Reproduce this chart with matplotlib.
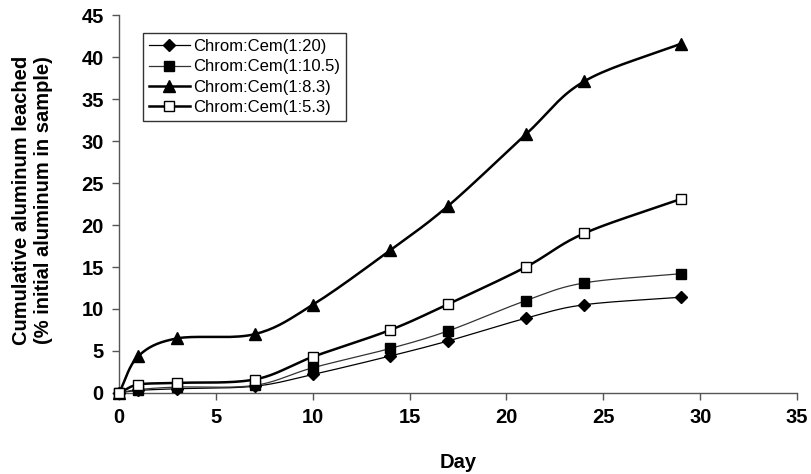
import numpy as np
import matplotlib
matplotlib.use('Agg')
import matplotlib.pyplot as plt

plt.rcParams['font.family'] = ['Liberation Sans', 'DejaVu Sans']

# data
days = [0, 1, 3, 7, 10, 14, 17, 21, 24, 29]
cem_1_20 = [0, 0.3, 0.5, 0.8, 2.2, 4.4, 6.2, 8.9, 10.5, 11.4]
cem_1_10_5 = [0, 0.4, 0.7, 0.9, 3.0, 5.3, 7.4, 11.0, 13.1, 14.2]
cem_1_8_3 = [0, 4.4, 6.5, 7.0, 10.5, 17.0, 22.3, 30.8, 37.1, 41.6]
cem_1_5_3 = [0, 1.0, 1.2, 1.6, 4.3, 7.5, 10.6, 15.0, 19.0, 23.1]


def smooth(x, y, n=20):
    '''Catmull-Rom style curve through the points (like Excel smoothed lines)'''
    x = np.asarray(x, float)
    y = np.asarray(y, float)
    px = np.concatenate([[2 * x[0] - x[1]], x, [2 * x[-1] - x[-2]]])
    py = np.concatenate([[2 * y[0] - y[1]], y, [2 * y[-1] - y[-2]]])
    xs, ys = [], []
    t = np.linspace(0, 1, n)
    for i in range(1, len(px) - 2):
        p0, p1, p2, p3 = [np.array([px[j], py[j]]) for j in range(i - 1, i + 3)]
        c1 = p1 + (p2 - p0) / 6
        c2 = p2 - (p3 - p1) / 6
        for tt in t:
            pt = ((1 - tt) ** 3) * p1 + 3 * ((1 - tt) ** 2) * tt * c1 + 3 * (1 - tt) * tt ** 2 * c2 + tt ** 3 * p2
            xs.append(pt[0])
            ys.append(pt[1])
    return xs, ys


fig = plt.figure(figsize=(8.12, 4.74), dpi=100)
ax = fig.add_axes([0.1466, 0.171, 0.835, 0.797])

series = [
    (cem_1_20, 'Chrom:Cem(1:20)', 'D', 'black', 'black', 0.9, 6),
    (cem_1_10_5, 'Chrom:Cem(1:10.5)', 's', 'black', '#333333', 0.9, 7),
    (cem_1_8_3, 'Chrom:Cem(1:8.3)', '^', 'black', 'black', 1.8, 8),
    (cem_1_5_3, 'Chrom:Cem(1:5.3)', 's', 'white', 'black', 1.8, 7),
]

handles = []
for vals, label, marker, face, lc, lw, ms in series:
    sx, sy = smooth(days, vals)
    ax.plot(sx, sy, color=lc, lw=lw, zorder=2, clip_on=False)
    ax.plot(days, vals, linestyle='none', marker=marker, markerfacecolor=face,
            markeredgecolor='black', markeredgewidth=1.0, markersize=ms,
            zorder=3, clip_on=False)
    h, = ax.plot([], [], color=lc, lw=lw, marker=marker, markerfacecolor=face,
                 markeredgecolor='black', markersize=ms, label=label)
    handles.append(h)

ax.set_xlim(0, 35)
ax.set_ylim(0, 45)
ax.set_xticks(range(0, 36, 5))
ax.set_yticks(range(0, 46, 5))
ax.spines['top'].set_visible(False)
ax.spines['right'].set_visible(False)
for s in ['left', 'bottom']:
    ax.spines[s].set_color('#555555')
    ax.spines[s].set_linewidth(1.0)
ax.tick_params(direction='out', length=5, width=1, color='#555555', labelsize=14.5, pad=6)
for lab in ax.get_xticklabels() + ax.get_yticklabels():
    lab.set_fontweight('bold')

ax.set_xlabel('Day', fontsize=14.5, fontweight='bold')
ax.set_ylabel('Cumulative aluminum leached\n(% initial aluminum in sample)',
              fontsize=14.5, fontweight='bold', linespacing=1.25)
ax.xaxis.set_label_coords(0.5, -0.16)
ax.yaxis.set_label_coords(-0.097, 0.51)

leg = ax.legend(handles=handles, loc='upper left', bbox_to_anchor=(0.035, 0.952),
                fontsize=12, frameon=True, fancybox=False, edgecolor='black',
                handlelength=2.5, borderpad=0.35, labelspacing=0.32, handletextpad=0.2,
                borderaxespad=0)
leg.get_frame().set_linewidth(1.0)

fig.savefig('out.png', dpi=100)
